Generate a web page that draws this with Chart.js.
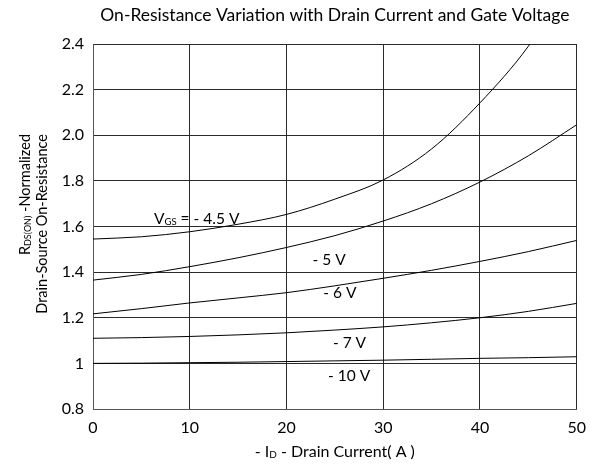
<!DOCTYPE html>
<html>
<head>
<meta charset="utf-8">
<script src="https://cdn.jsdelivr.net/npm/chart.js@4/dist/chart.umd.min.js"></script>
<style>
  html, body { margin: 0; padding: 0; background: #fff; }
  #wrap { width: 595px; height: 467px; }
</style>
</head>
<body>
<div id="wrap"><canvas id="chart"></canvas></div>
<script>
// -ID drain current (A)
const current = [0, 5, 10, 15, 20, 25, 30, 35, 40, 45, 50]
// normalized RDS(ON) for each gate voltage
const vgs45 = [1.545, 1.555, 1.577, 1.61, 1.653, 1.72, 1.804, 1.94, 2.142, 2.39, 2.72]
const vgs5 = [1.365, 1.39, 1.424, 1.463, 1.508, 1.56, 1.624, 1.70, 1.795, 1.91, 2.046]
const vgs6 = [1.217, 1.24, 1.265, 1.287, 1.31, 1.34, 1.373, 1.408, 1.447, 1.49, 1.539]
const vgs7 = [1.11, 1.113, 1.118, 1.125, 1.134, 1.146, 1.16, 1.178, 1.2, 1.228, 1.263]
const vgs10 = [1.0, 1.001, 1.003, 1.005, 1.008, 1.011, 1.014, 1.018, 1.022, 1.025, 1.029]
const seriesNames = ["-4.5 V", "-5 V", "-6 V", "-7 V", "-10 V"]
const seriesValues = [vgs45, vgs5, vgs6, vgs7, vgs10]

const FONT = "Lato, 'Open Sans', sans-serif"

// curve labels, anchored in data units (x, y = left/middle of the text)
const curveLabels = [
  { parts: [["V"], ["GS", true], [" = - 4.5 V"]], x: 6.3, y: 1.635 },
  { parts: [["- 5 V"]], x: 22.7, y: 1.455 },
  { parts: [["- 6 V"]], x: 23.8, y: 1.31 },
  { parts: [["- 7 V"]], x: 24.8, y: 1.09 },
  { parts: [["- 10 V"]], x: 24.3, y: 0.945 },
]

function partsWidth(ctx, parts, size) {
  let w = 0
  for (const p of parts) {
    ctx.font = (p[1] ? size * 0.62 : size) + "px " + FONT
    w += ctx.measureText(p[0]).width
  }
  return w
}

function drawParts(ctx, parts, x, y, size) {
  let cx = x
  ctx.textAlign = "left"
  ctx.textBaseline = "alphabetic"
  for (const p of parts) {
    ctx.font = (p[1] ? size * 0.62 : size) + "px " + FONT
    ctx.fillText(p[0], cx, p[1] ? y + 1 : y)
    cx += ctx.measureText(p[0]).width
  }
}

const textPlugin = {
  id: "texts",
  afterDraw(chart) {
    const ctx = chart.ctx
    const xs = chart.scales.x
    const ys = chart.scales.y
    const area = chart.chartArea
    ctx.save()
    ctx.fillStyle = "#000"

    // title
    ctx.font = "17.5px " + FONT
    ctx.textAlign = "center"
    ctx.textBaseline = "middle"
    ctx.fillText("On-Resistance Variation with Drain Current and Gate Voltage", (area.left + area.right) / 2, 15)

    // x axis title
    const xParts = [["- I"], ["D", true], [" - Drain Current( A )"]]
    const xw = partsWidth(ctx, xParts, 16)
    drawParts(ctx, xParts, (area.left + area.right) / 2 - xw / 2, 457, 16)

    // y axis title, two rotated lines
    ctx.save()
    ctx.rotate(-Math.PI / 2)
    const l1 = [["R"], ["DS(ON)", true], [" -Normalized"]]
    const l2 = [["Drain-Source On-Resistance"]]
    const w1 = partsWidth(ctx, l1, 14.5)
    const w2 = partsWidth(ctx, l2, 14.5)
    drawParts(ctx, l1, -134 - w1, 30, 14.5)
    drawParts(ctx, l2, -134 - w2, 47, 14.5)
    ctx.restore()

    // curve labels
    for (const lb of curveLabels) {
      drawParts(ctx, lb.parts, xs.getPixelForValue(lb.x), ys.getPixelForValue(lb.y) + 5, 15.5)
    }
    ctx.restore()
  },
}

const datasets = seriesNames.map((name, i) => ({
  label: name,
  data: current.map((c, j) => ({ x: c, y: seriesValues[i][j] })),
  borderColor: "#000",
  borderWidth: 1,
  pointRadius: 0,
  cubicInterpolationMode: "monotone",
  fill: false,
}))

new Chart(document.getElementById("chart"), {
  type: "line",
  data: { datasets },
  options: {
    responsive: true,
    maintainAspectRatio: false,
    animation: false,
    devicePixelRatio: 1,
    layout: { padding: { left: 0, right: 18, top: 44, bottom: 0 } },
    plugins: { legend: { display: false }, tooltip: { enabled: false } },
    scales: {
      x: {
        type: "linear",
        min: 0,
        max: 50,
        ticks: { stepSize: 10, color: "#000", padding: 9, font: { family: FONT, size: 16 } },
        grid: { color: "#2a2a2a", lineWidth: 1, drawTicks: false },
        border: { color: "#555", width: 1 },
        afterFit(scale) { scale.height = 58 },
      },
      y: {
        min: 0.8,
        max: 2.4,
        ticks: {
          stepSize: 0.2,
          color: "#000",
          padding: 9,
          font: { family: FONT, size: 16 },
          callback: (v) => (Math.abs(v - 1) < 1e-6 ? "1" : v.toFixed(1)),
        },
        grid: { color: "#2a2a2a", lineWidth: 1, drawTicks: false },
        border: { color: "#555", width: 1 },
        afterFit(scale) { scale.width = 93 },
      },
    },
  },
  plugins: [textPlugin],
})
</script>
</body>
</html>
